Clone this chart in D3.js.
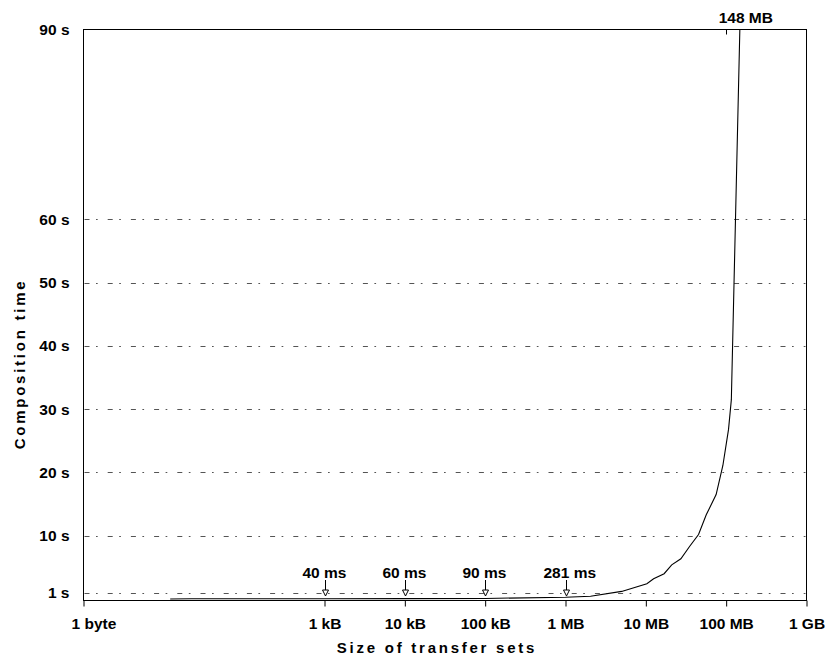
<!DOCTYPE html>
<html>
	<head>
		<meta charset="utf-8"/>
		<script type="text/javascript" src="https://cdn.jsdelivr.net/npm/d3@7/dist/d3.min.js"></script>
		<style>
			body {
				margin:0;
				background:#FFF;
			}
			svg text {
				font-family:"Liberation Sans", Arial, sans-serif;
				font-weight:bold;
				fill:#000;
			}
			.tick text {
				font-size:15.5px;
			}
			.title {
				font-size:15px;
				letter-spacing:2.75px;
			}
			.note {
				font-size:15.5px;
			}
			.grid line {
				stroke:#555;
				stroke-width:1;
				stroke-dasharray:5,6.5,1.7,10;
			}
		</style>
	</head>
	<body>
		<script>
			// transfer set size (bytes) and composition time (seconds)
			var sizes = [12, 22, 1e3, 1e4, 1e5, 1e6, 2.05e6, 5e6, 1.03e7, 1.25e7, 1.69e7, 2.1e7, 2.73e7, 3.5e7, 4.53e7, 5.65e7, 7.5e7, 9.1e7, 1.07e8, 1.16e8, 1.48e8];
			var times = [0, 0.03, 0.04, 0.06, 0.09, 0.281, 0.44, 1.2, 2.4, 3.2, 4.0, 5.4, 6.35, 8.3, 10.2, 13.3, 16.5, 21.1, 26.8, 31.5, 90];

			var x_ticks = [1, 1e3, 1e4, 1e5, 1e6, 1e7, 1e8, 1e9];
			var x_labels = ["1 byte", "1 kB", "10 kB", "100 kB", "1 MB", "10 MB", "100 MB", "1 GB"];
			var y_ticks = [1, 10, 20, 30, 40, 50, 60, 90];
			var grid_ticks = [1, 10, 20, 30, 40, 50, 60];

			// annotated points
			var note_sizes = [1e3, 1e4, 1e5, 1e6];
			var note_labels = ["40 ms", "60 ms", "90 ms", "281 ms"];
			var peak_label = "148 MB";

			var width = 826, height = 660;
			var pl = 83.5, pr = 806.5, pt = 29.5, pb = 600.5;

			var x = d3.scaleLog().domain([1, 1e9]).range([pl, pr]);
			var y = d3.scaleLinear().domain([0, 90]).range([599, pt]);

			var svg = d3.select("body").append("svg")
				.attr("width", width)
				.attr("height", height);

			// dash-dot grid
			svg.append("g")
				.attr("class", "grid")
				.selectAll("line")
				.data(grid_ticks)
				.join("line")
				.attr("x1", pl + 1)
				.attr("x2", pr - 1)
				.attr("y1", d => Math.round(y(d)) + 0.5)
				.attr("y2", d => Math.round(y(d)) + 0.5);

			// frame
			svg.append("rect")
				.attr("x", pl)
				.attr("y", pt)
				.attr("width", pr - pl)
				.attr("height", pb - pt)
				.attr("fill", "none")
				.attr("stroke", "#000")
				.attr("stroke-width", 1);

			var xAxis = svg.append("g")
				.attr("transform", "translate(0," + pb + ")")
				.call(d3.axisBottom(x)
					.tickValues(x_ticks)
					.tickFormat((d, i) => x_labels[i])
					.tickSize(6)
					.tickPadding(11));
			xAxis.select(".domain").remove();
			xAxis.selectAll(".tick line").attr("stroke", "#000");
			xAxis.selectAll(".tick text").filter((d, i) => i == 0).attr("dx", 10);

			var yAxis = svg.append("g")
				.attr("transform", "translate(" + pl + ",0)")
				.call(d3.axisLeft(y)
					.tickValues(y_ticks)
					.tickFormat(d => d + " s")
					.tickSize(0)
					.tickPadding(14));
			yAxis.select(".domain").remove();

			// little mark on the top edge at 100 MB
			svg.append("line")
				.attr("x1", Math.round(x(1e8)) + 0.5)
				.attr("x2", Math.round(x(1e8)) + 0.5)
				.attr("y1", pt)
				.attr("y2", pt + 5)
				.attr("stroke", "#000");

			// curve
			var line = d3.line()
				.x((d, i) => x(sizes[i]))
				.y(d => y(d));
			svg.append("path")
				.datum(times)
				.attr("d", line)
				.attr("fill", "none")
				.attr("stroke", "#000")
				.attr("stroke-width", 1.1);

			// notes with small arrows
			var notes = svg.append("g")
				.selectAll("g")
				.data(note_sizes)
				.join("g")
				.attr("transform", d => "translate(" + (Math.round(x(d)) + 0.5) + ",0)");
			notes.append("line")
				.attr("y1", 580)
				.attr("y2", 590)
				.attr("stroke", "#000");
			notes.append("path")
				.attr("d", "M-3,590L3,590L0,596Z")
				.attr("fill", "#FFF")
				.attr("stroke", "#000");
			notes.append("text")
				.attr("class", "note")
				.attr("x", -23)
				.attr("y", 578)
				.text((d, i) => note_labels[i]);

			svg.append("text")
				.attr("class", "note")
				.attr("x", x(sizes[sizes.length - 1]) + 6)
				.attr("y", 23)
				.attr("text-anchor", "middle")
				.text(peak_label);

			// axis titles
			svg.append("text")
				.attr("class", "title")
				.attr("x", 437)
				.attr("y", 653)
				.attr("text-anchor", "middle")
				.text("Size of transfer sets");
			svg.append("text")
				.attr("class", "title")
				.attr("transform", "translate(25,364) rotate(-90)")
				.attr("text-anchor", "middle")
				.text("Composition time");
		</script>
	</body>
</html>
